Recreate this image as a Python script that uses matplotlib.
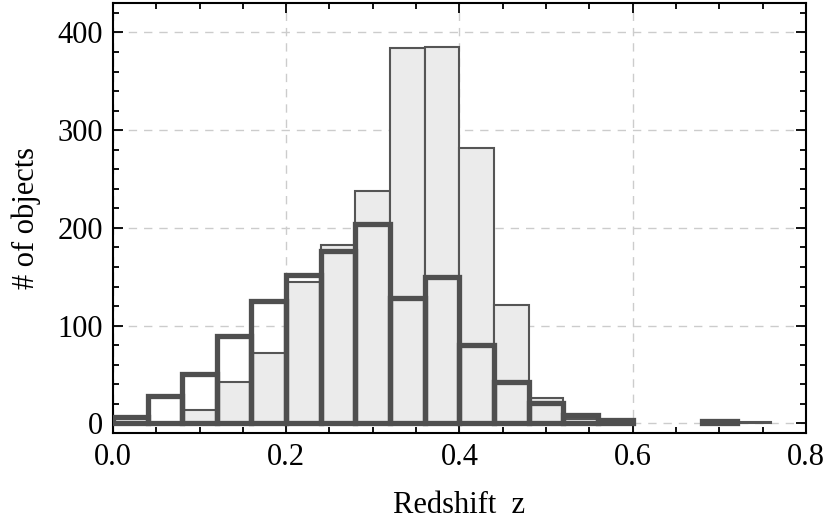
import numpy as np
import matplotlib.pyplot as plt
from matplotlib.ticker import MultipleLocator

# histogram bins (redshift), width 0.04
bin_edges = np.round(np.arange(0.0, 0.761, 0.04), 2)
full_counts = [0, 0, 14, 42, 72, 145, 183, 238, 384, 385, 282, 121, 26, 4, 1, 0, 0, 1, 1]
sub_counts = [7, 28, 51, 89, 125, 152, 176, 204, 128, 150, 80, 42, 21, 9, 3, 0, 0, 2, 0]

plt.rcParams['font.family'] = ['Liberation Serif', 'DejaVu Serif']

fig = plt.figure(figsize=(8.3, 5.25), dpi=100)
ax = fig.add_axes([0.136, 0.175, 0.835, 0.819])

left = bin_edges[:-1]
full = np.array(full_counts)
sub = np.array(sub_counts)
# empty bins are not drawn
ax.bar(left[full > 0], full[full > 0], width=0.04, align='edge', color='#ebebeb',
       edgecolor='#555555', linewidth=1.5, zorder=2)
ax.bar(left[sub > 0], sub[sub > 0], width=0.04, align='edge', fill=False,
       edgecolor='#4f4f4f', linewidth=3.8, zorder=3)

ax.set_xlim(0, 0.8)
ax.set_ylim(-10, 430)
ax.xaxis.set_major_locator(MultipleLocator(0.2))
ax.xaxis.set_minor_locator(MultipleLocator(0.05))
ax.yaxis.set_major_locator(MultipleLocator(100))
ax.yaxis.set_minor_locator(MultipleLocator(20))
ax.tick_params(which='both', direction='in', top=True, right=True, width=1.3, labelsize=22)
ax.tick_params(which='major', length=7, pad=7)
ax.tick_params(which='minor', length=4)
for s in ax.spines.values():
    s.set_linewidth(1.5)

ax.grid(True, which='major', linestyle=(0, (6, 5)), color='#cccccc', linewidth=1, zorder=0)
ax.set_axisbelow(True)

ax.set_xlabel("Redshift  z", fontsize=22, labelpad=14)
ax.set_ylabel("# of objects", fontsize=22, labelpad=12)

plt.savefig("out.png", dpi=100)
